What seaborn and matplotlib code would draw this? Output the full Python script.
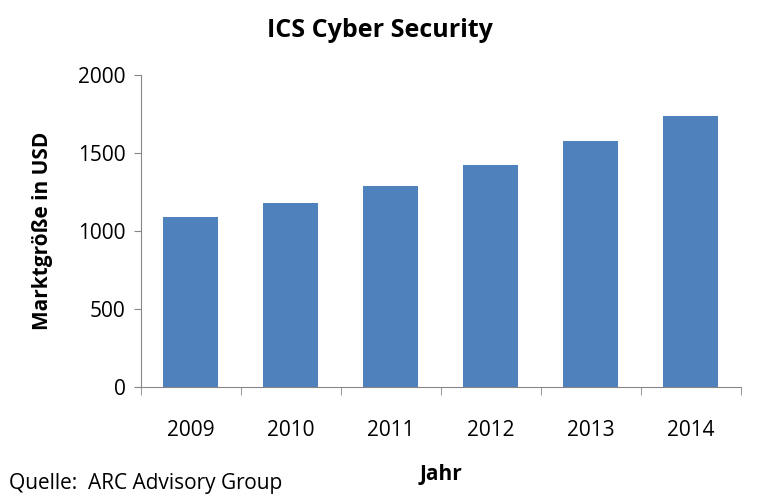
import matplotlib
matplotlib.use("Agg")
import matplotlib.pyplot as plt
import seaborn as sns
import pandas as pd

years = ["2009", "2010", "2011", "2012", "2013", "2014"]
values = [1090, 1180, 1290, 1425, 1577, 1738]
title = "ICS Cyber Security"
xlabel = "Jahr"
ylabel = "Marktgröße in USD"
source = "Quelle:  ARC Advisory Group"

plt.rcParams["font.family"] = "Open Sans"
df = pd.DataFrame({"Jahr": years, "Wert": values})

fig = plt.figure(figsize=(7.6, 5.04), dpi=100)
ax = fig.add_axes([0.1855, 0.232, 0.789, 0.619])
sns.barplot(data=df, x="Jahr", y="Wert", color="#4F81BD", width=0.55, saturation=1, ax=ax)
ax.set_xlim(-0.5, 5.5)
ax.set_ylim(0, 2000)
ax.set_yticks([0, 500, 1000, 1500, 2000])
ax.tick_params(axis="both", labelsize=15, colors="#000000")
ax.tick_params(axis="y", length=5, color="#868686", pad=6)
ax.tick_params(axis="x", length=0, pad=24)
ax.set_xticks([i + 0.5 for i in range(-1, 6)], minor=True)
ax.tick_params(axis="x", which="minor", length=6, color="#868686")
for s in ["top", "right"]:
    ax.spines[s].set_visible(False)
for s in ["left", "bottom"]:
    ax.spines[s].set_color("#868686")
ax.set_xlabel(xlabel, fontsize=15, fontweight="bold", labelpad=16)
ax.set_ylabel(ylabel, fontsize=15, fontweight="bold", labelpad=18)
fig.suptitle(title, fontsize=18, fontweight="bold", y=0.965, x=0.5)
fig.text(0.012, 0.03, source, fontsize=15)
fig.savefig("out.png", dpi=100)
